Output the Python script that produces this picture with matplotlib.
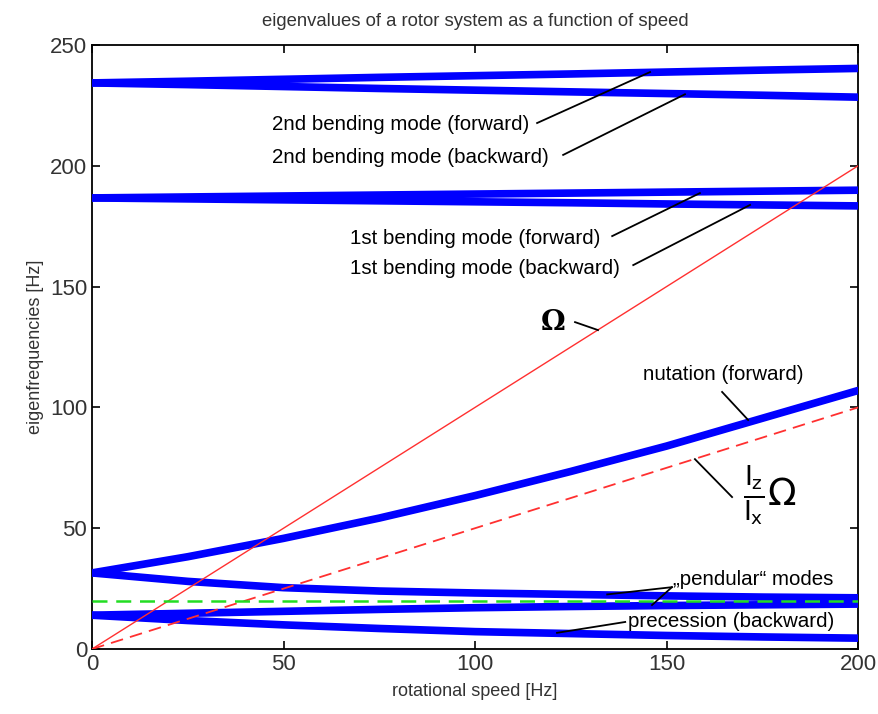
import matplotlib
matplotlib.use("Agg")
import matplotlib.pyplot as plt
import numpy as np

# rotational speed grid [Hz]
speed = [0, 25, 50, 75, 100, 125, 150, 175, 200]

# eigenfrequencies [Hz]
bend2_fwd = [234.3, 235.0, 235.8, 236.6, 237.3, 238.0, 238.8, 239.6, 240.3]
bend2_bwd = [234.3, 233.6, 232.8, 232.0, 231.3, 230.6, 229.9, 229.2, 228.4]
bend1_fwd = [186.7, 187.1, 187.5, 187.9, 188.3, 188.7, 189.1, 189.5, 189.9]
bend1_bwd = [186.7, 186.3, 185.9, 185.5, 185.1, 184.7, 184.2, 183.8, 183.4]
nut_fwd = [31.5, 38.2, 45.8, 54.2, 63.5, 73.5, 84.0, 95.5, 107.0]
nut_bwd = [31.5, 28.0, 25.4, 24.0, 23.2, 22.6, 22.0, 21.5, 21.2]
pend = [14.0, 14.8, 15.6, 16.4, 17.1, 17.6, 18.0, 18.3, 18.6]
prec_bwd = [14.0, 11.8, 10.0, 8.5, 7.2, 6.4, 5.6, 5.0, 4.5]

omega = [0, 200]          # Omega line endpoints (x = y)
ratio = 0.5               # Iz/Ix
pend_level = 19.7         # green dashed line

# annotations: text, text anchor (data), leader line segments (data)
labels = [
    ("2nd bending mode (forward)", (47, 216.9), [((116.2, 217.7), (145.7, 238.8))]),
    ("2nd bending mode (backward)", (47, 203.6), [((123.0, 204.5), (154.8, 229.6))]),
    ("1st bending mode (forward)", (67.4, 170.1), [((135.8, 170.9), (158.7, 188.7))]),
    ("1st bending mode (backward)", (67.4, 157.3), [((141.3, 158.9), (171.8, 183.8))]),
    ("nutation (forward)", (143.9, 113.8), [((164.5, 106.4), (171.3, 94.8))]),
    ("\u201ependular\u201c modes", (151.8, 28.6), [((151.4, 25.6), (134.5, 22.6)),
                                             ((151.4, 25.6), (146.2, 18.2))]),
    ("precession (backward)", (140.0, 11.2), [((139.2, 11.2), (121.4, 6.7))]),
]

plt.rcParams['font.family'] = ['Liberation Sans', 'DejaVu Sans']

fig = plt.figure(figsize=(8.79, 7.14), dpi=100)
ax = fig.add_axes([0.1047, 0.091, 0.8715, 0.846])

blue = '#0000ff'
for ys in [bend2_fwd, bend2_bwd, bend1_fwd, bend1_bwd, nut_fwd, nut_bwd, pend, prec_bwd]:
    ax.plot(speed, ys, color=blue, lw=5.5, solid_capstyle='round',
            solid_joinstyle='round', zorder=3)

ax.plot(omega, omega, color='#ff3030', lw=1.0, zorder=4)
ax.plot(omega, [ratio * w for w in omega], color='#ff3030', lw=1.3,
        dashes=(7, 4), zorder=4)
ax.plot([speed[0], speed[-1]], [pend_level, pend_level], color='#22dd22', lw=1.8,
        dashes=(6, 3.5), zorder=4)

for txt, (tx, ty), segs in labels:
    ax.text(tx, ty, txt, fontsize=14.8, ha='left', va='center', zorder=6)
    for (x0, y0), (x1, y1) in segs:
        ax.plot([x0, x1], [y0, y1], color='black', lw=1.3, zorder=5)

# Omega label
ax.text(120.4, 135.3, "\u03a9", fontsize=20, fontweight='bold',
        family='DejaVu Serif', ha='center', va='center', zorder=6)
ax.plot([126.1, 132.1], [135.3, 132.0], color='black', lw=1.3, zorder=5)

# Iz/Ix Omega label
ax.text(177, 63.5, r'$\frac{\mathsf{I}_\mathsf{z}}{\mathsf{I}_\mathsf{x}}\Omega$',
        fontsize=27, ha='center', va='center', zorder=6)
ax.plot([157.4, 167.1], [78.6, 62.9], color='black', lw=1.3, zorder=5)

ax.set_xlim(0, 200)
ax.set_ylim(0, 250)
ax.set_xticks([0, 50, 100, 150, 200])
ax.set_yticks([0, 50, 100, 150, 200, 250])
ax.tick_params(direction='in', length=6, width=1.2, labelsize=16,
               top=True, right=True, labelcolor='#333333')
for s in ax.spines.values():
    s.set_linewidth(1.3)

ax.set_xlabel("rotational speed [Hz]", fontsize=13, color='#333333', labelpad=6)
ax.set_ylabel("eigenfrequencies [Hz]", fontsize=13, color='#333333', labelpad=4)
ax.set_title("eigenvalues of a rotor system as a function of speed",
             fontsize=13.3, color='#333333', pad=14)

fig.savefig("out.png", dpi=100)
